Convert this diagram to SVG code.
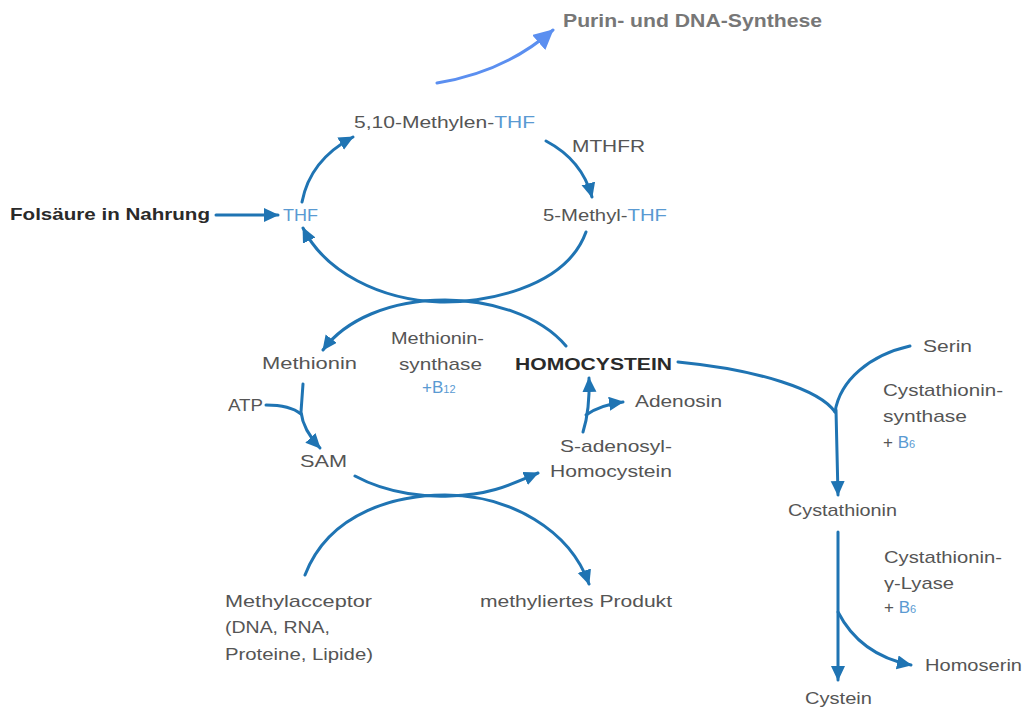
<svg xmlns="http://www.w3.org/2000/svg" width="1029" height="708" viewBox="0 0 1029 708">
<style>
text{font-family:"Liberation Sans",Arial,sans-serif;font-size:17px;fill:#555}
.b{font-weight:bold;fill:#2a2a2a}
.blue{fill:#5a9ad2}
.c{fill:none;stroke:#1f74b3;stroke-width:3;stroke-linecap:round}
.lc{fill:none;stroke:#5b8ff0;stroke-width:3;stroke-linecap:round}
</style>
<defs>
<marker id="ah" markerUnits="userSpaceOnUse" markerWidth="18" markerHeight="16" refX="14" refY="7" orient="auto"><path d="M0,0 L15,7 L0,14 z" fill="#1f74b3"/></marker>
<marker id="ahl" markerUnits="userSpaceOnUse" markerWidth="24" markerHeight="22" refX="19" refY="10" orient="auto"><path d="M0,0 L20,10 L0,20 z" fill="#5b8ff0"/></marker>
</defs>
<rect width="1029" height="708" fill="#fff"/>
<g id="connectors">
<path class="lc" d="M437,83 Q505,72 553,30" marker-end="url(#ahl)"/>
<path class="c" d="M216,215 L278,215" marker-end="url(#ah)"/>
<path class="c" d="M302,202 Q310,160 353,137" marker-end="url(#ah)"/>
<path class="c" d="M546,141 Q582,160 592,197" marker-end="url(#ah)"/>
<path class="c" d="M586,232 C565,290 480,303 440,302 C380,300 325,272 303,228" marker-end="url(#ah)"/>
<path class="c" d="M566,346 C540,315 490,300 445,300 C390,300 345,320 323,350" marker-end="url(#ah)"/>
<path class="c" d="M303,384 L301,412 Q303,430 320,448" marker-end="url(#ah)"/>
<path class="c" d="M266,405 Q290,405 301,414"/>
<path class="c" d="M583,432 Q590,410 589,378" marker-end="url(#ah)"/>
<path class="c" d="M586,415 Q600,405 623,402" marker-end="url(#ah)"/>
<path class="c" d="M355,476 C390,495 430,497 450,496 C490,495 510,485 538,473" marker-end="url(#ah)"/>
<path class="c" d="M305,575 C330,510 400,495 445,495 C510,495 570,530 589,584" marker-end="url(#ah)"/>
<path class="c" d="M678,362 C760,370 820,390 835,412"/>
<path class="c" d="M910,346 C870,355 840,380 835,412"/>
<path class="c" d="M836,410 L838,495" marker-end="url(#ah)"/>
<path class="c" d="M838,532 L838,680" marker-end="url(#ah)"/>
<path class="c" d="M838,612 Q860,655 911,665" marker-end="url(#ah)"/>
</g>
<g id="purin"><text x="563" y="27" class="b" style="fill:#777;font-size:19px" textLength="259" lengthAdjust="spacingAndGlyphs">Purin- und DNA-Synthese</text></g>
<g id="methylen-thf"><text x="354" y="128" textLength="181" lengthAdjust="spacingAndGlyphs">5,10-Methylen-<tspan class="blue">THF</tspan></text></g>
<g id="mthfr"><text x="572" y="152" textLength="73" lengthAdjust="spacingAndGlyphs">MTHFR</text></g>
<g id="methyl-thf"><text x="543" y="221" textLength="124" lengthAdjust="spacingAndGlyphs">5-Methyl-<tspan class="blue">THF</tspan></text></g>
<g id="folsaeure"><text x="10" y="220" class="b" textLength="200" lengthAdjust="spacingAndGlyphs">Folsäure in Nahrung</text></g>
<g id="thf"><text x="283" y="221" class="blue" textLength="35" lengthAdjust="spacingAndGlyphs">THF</text></g>
<g id="methionin"><text x="262" y="369" textLength="95" lengthAdjust="spacingAndGlyphs">Methionin</text></g>
<g id="methioninsynthase">
<text x="391" y="344" textLength="93" lengthAdjust="spacingAndGlyphs">Methionin-</text>
<text x="399" y="370" textLength="83" lengthAdjust="spacingAndGlyphs">synthase</text>
<text x="422" y="393" class="blue">+B<tspan style="font-size:11px">12</tspan></text>
</g>
<g id="homocystein"><text x="515" y="370" class="b" textLength="157" lengthAdjust="spacingAndGlyphs">HOMOCYSTEIN</text></g>
<g id="atp"><text x="228" y="411" textLength="35" lengthAdjust="spacingAndGlyphs">ATP</text></g>
<g id="sam"><text x="300" y="467" textLength="47" lengthAdjust="spacingAndGlyphs">SAM</text></g>
<g id="adenosin"><text x="635" y="407" textLength="87" lengthAdjust="spacingAndGlyphs">Adenosin</text></g>
<g id="sah">
<text x="560" y="452" textLength="112" lengthAdjust="spacingAndGlyphs">S-adenosyl-</text>
<text x="550" y="477" textLength="122" lengthAdjust="spacingAndGlyphs">Homocystein</text>
</g>
<g id="methylacceptor">
<text x="225" y="607" textLength="147" lengthAdjust="spacingAndGlyphs">Methylacceptor</text>
<text x="225" y="633" textLength="105" lengthAdjust="spacingAndGlyphs">(DNA, RNA,</text>
<text x="225" y="660" textLength="148" lengthAdjust="spacingAndGlyphs">Proteine, Lipide)</text>
</g>
<g id="produkt"><text x="480" y="607" textLength="192" lengthAdjust="spacingAndGlyphs">methyliertes Produkt</text></g>
<g id="serin"><text x="923" y="352" textLength="49" lengthAdjust="spacingAndGlyphs">Serin</text></g>
<g id="cbs">
<text x="883" y="396" textLength="120" lengthAdjust="spacingAndGlyphs">Cystathionin-</text>
<text x="883" y="422" textLength="84" lengthAdjust="spacingAndGlyphs">synthase</text>
<text x="883" y="448">+ <tspan class="blue">B<tspan style="font-size:11px">6</tspan></tspan></text>
</g>
<g id="cystathionin"><text x="788" y="516" textLength="109" lengthAdjust="spacingAndGlyphs">Cystathionin</text></g>
<g id="cgl">
<text x="884" y="563" textLength="118" lengthAdjust="spacingAndGlyphs">Cystathionin-</text>
<text x="884" y="589" textLength="70" lengthAdjust="spacingAndGlyphs">γ-Lyase</text>
<text x="884" y="613">+ <tspan class="blue">B<tspan style="font-size:11px">6</tspan></tspan></text>
</g>
<g id="homoserin"><text x="925" y="671" textLength="97" lengthAdjust="spacingAndGlyphs">Homoserin</text></g>
<g id="cystein"><text x="805" y="704" textLength="67" lengthAdjust="spacingAndGlyphs">Cystein</text></g>
</svg>
